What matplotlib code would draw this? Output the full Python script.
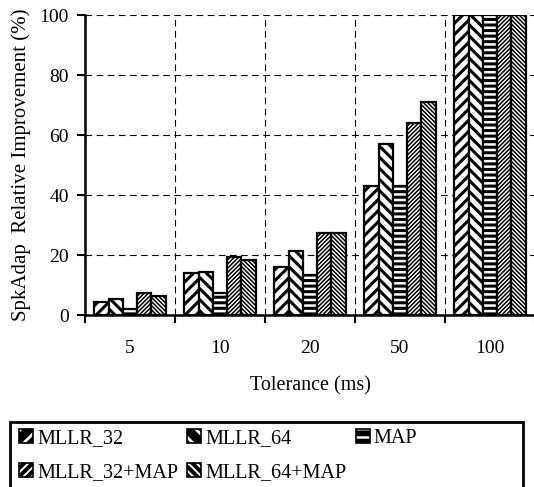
import matplotlib
matplotlib.use("Agg")
import matplotlib.pyplot as plt
import numpy as np
from matplotlib.patches import Rectangle
from matplotlib.legend_handler import HandlerBase

plt.rcParams['font.family'] = ['Liberation Serif', 'DejaVu Serif']
plt.rcParams['hatch.linewidth'] = 2.0

categories = ['5', '10', '20', '50', '100']
series = ['MLLR_32', 'MLLR_64', 'MAP', 'MLLR_32+MAP', 'MLLR_64+MAP']
mllr32 = [4.5, 14, 16, 43, 100]
mllr64 = [5.5, 14.5, 21.5, 57, 100]
map_ = [2, 7.5, 13.5, 43, 100]
mllr32_map = [7.5, 19.5, 27.5, 64, 100]
mllr64_map = [6.5, 18.5, 27.5, 71, 100]
values = [mllr32, mllr64, map_, mllr32_map, mllr64_map]
hatches = ['///', '\\\\\\', '---', '////////', '\\\\\\\\\\\\\\\\']
hatch_lw = [2.2, 2.2, 2.2, 1.1, 1.1]
leg_hatches = ['//', '\\\\', '--', '////', '\\\\\\\\']
leg_hatch_lw = [2.0, 2.0, 1.8, 1.4, 1.4]


class IconHandler(HandlerBase):
    def __init__(self, hatch, hlw):
        super().__init__()
        self.hatch = hatch
        self.hlw = hlw

    def create_artists(self, legend, orig_handle, xdescent, ydescent,
                       width, height, fontsize, trans):
        xy = (-xdescent, -ydescent)
        bg = Rectangle(xy, width, height, facecolor='black', edgecolor='none',
                       transform=trans)
        hp = Rectangle(xy, width, height, facecolor='none', edgecolor='white',
                       hatch=self.hatch, linewidth=0, transform=trans)
        try:
            hp.set_hatch_linewidth(self.hlw)
        except Exception:
            pass
        border = Rectangle(xy, width, height, facecolor='none', edgecolor='black',
                           linewidth=1.2, transform=trans)
        return [bg, hp, border]


fig = plt.figure(figsize=(5.34, 4.87), dpi=100)
ax = fig.add_axes([85/534, 1-315/487, 450/534, 300/487])

x = np.arange(len(categories))
w = 0.158
for i, (name, vals) in enumerate(zip(series, values)):
    bars = ax.bar(x + (i - 2) * w, vals, w, color='white', edgecolor='black',
                  linewidth=1.6, hatch=hatches[i], label=name, zorder=3)
    for b in bars:
        try:
            b.set_hatch_linewidth(hatch_lw[i])
        except Exception:
            pass

ax.set_xlim(-0.5, len(categories) - 0.5)
ax.set_ylim(0, 100)
ax.set_yticks([0, 20, 40, 60, 80, 100])
ax.set_xticks(np.arange(len(categories) + 1) - 0.5)
ax.set_xticklabels([])
ax.set_xticks(x, minor=True)
ax.set_xticklabels(categories, minor=True)
ax.tick_params(axis='x', which='major', direction='out', length=6, width=1.5)
ax.tick_params(axis='x', which='minor', length=0, pad=18, labelsize=14)
ax.tick_params(axis='y', direction='out', length=6, width=1.5, labelsize=14, pad=5.5)
ax.grid(True, which='major', color='black', linestyle=(0, (6, 4)), linewidth=0.8, zorder=0)
ax.set_axisbelow(True)
for s in ['top', 'right']:
    ax.spines[s].set_visible(False)
for s in ['left', 'bottom']:
    ax.spines[s].set_linewidth(1.8)
    ax.spines[s].set_zorder(4)

ax.set_xlabel('Tolerance (ms)', fontsize=14.5, labelpad=14)
ax.set_ylabel('SpkAdap  Relative Improvement (%)', fontsize=15, labelpad=6)

# legend box
fig.patches.append(Rectangle((10/534, -0.05), 513/534, 0.05 + (1 - 422/487),
                             transform=fig.transFigure, facecolor='none',
                             edgecolor='black', linewidth=2))
proxies = [Rectangle((0, 0), 1, 1) for i in range(5)]
hmap = {proxies[i]: IconHandler(leg_hatches[i], leg_hatch_lw[i]) for i in range(5)}
order = [0, 3, 1, 4, 2]
leg = fig.legend([proxies[i] for i in order], [series[i] for i in order],
                 handler_map=hmap,
                 ncol=3, loc='upper left', bbox_to_anchor=(19/534, 1 - 429/487),
                 frameon=False, fontsize=14.5, handlelength=0.7, handleheight=0.7,
                 handletextpad=0.2, columnspacing=0.45, labelspacing=0.72,
                 borderpad=0, borderaxespad=0)

fig.savefig('out.png', dpi=100)
